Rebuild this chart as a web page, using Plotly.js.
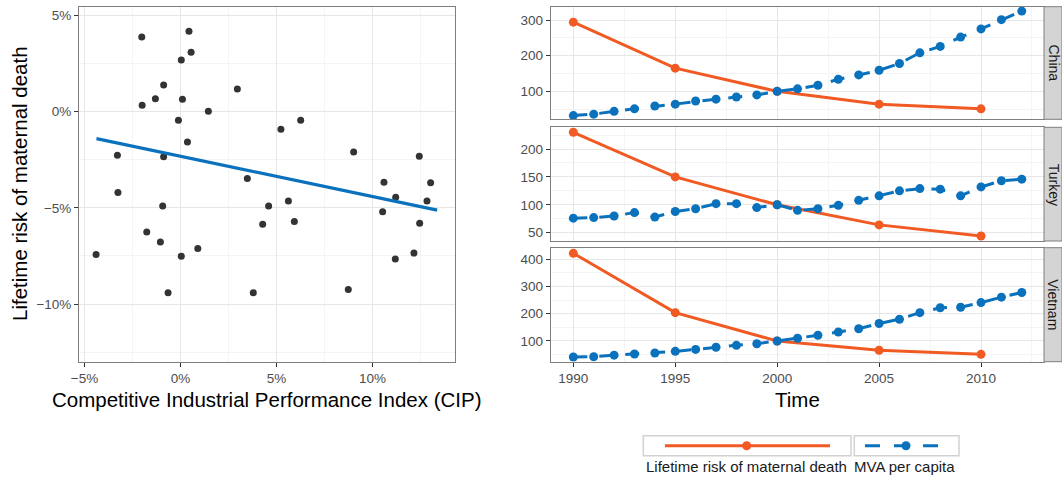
<!DOCTYPE html>
<html><head><meta charset="utf-8">
<script src="https://cdn.plot.ly/plotly-3.0.1.min.js"></script>
<style>html,body{margin:0;padding:0;background:#fff}#chart{width:1062px;height:477px}</style>
</head><body><div id="chart"></div>
<script>
// ---- Left panel: CIP vs lifetime risk of maternal death (percent) ----
const cipX = [-2.02, 0.44, 0.55, 0.04, -0.88, -1.31, -2.00, 0.10, 1.45, 2.96,
  -0.11, 0.36, -3.29, -0.88, -3.26, -0.93, -1.76, -1.05, 0.90, 3.48,
  -4.40, 0.04, -0.65, 5.23, 6.26, 9.02, 12.44, 10.60, 13.03, 11.21,
  12.84, 5.62, 4.59, 10.53, 12.46, 4.28, 5.93, 3.79, 8.74, 11.19, 12.16];
const riskChange = [3.87, 4.18, 3.08, 2.68, 1.38, 0.67, 0.33, 0.64, 0.02, 1.17,
  -0.45, -1.58, -2.27, -2.34, -4.20, -4.91, -6.25, -6.77, -7.11, -3.48,
  -7.42, -7.52, -9.41, -0.92, -0.45, -2.10, -2.32, -3.67, -3.70, -4.45,
  -4.65, -4.64, -4.91, -5.21, -5.80, -5.85, -5.71, -9.41, -9.24, -7.66, -7.35];
const fitX = [-4.38, 13.37];
const fitY = [-1.40, -5.12];

// ---- Right panels: index (2000 = 100) ----
const years = [1990,1991,1992,1993,1994,1995,1996,1997,1998,1999,2000,2001,
  2002,2003,2004,2005,2006,2007,2008,2009,2010,2011,2012];
const riskYears = [1990, 1995, 2000, 2005, 2010];
const countries = ["China", "Turkey", "Vietnam"];
const chinaRisk = [294, 165, 100, 64, 51];
const chinaMVA = [32, 36, 44, 51, 59, 64, 73, 78, 84, 90, 100, 107, 117, 134,
  146, 159, 178, 208, 226, 252, 275, 301, 325];
const turkeyRisk = [230, 150, 100, 64, 44];
const turkeyMVA = [76, 77, 80, 86, 78, 88, 93, 102, 102, 95, 100, 90, 93, 99,
  108, 116, 125, 129, 128, 116, 132, 143, 146];
const vietnamRisk = [422, 204, 100, 66, 51];
const vietnamMVA = [41, 42, 48, 52, 56, 62, 69, 77, 84, 90, 100, 110, 121, 133,
  145, 164, 180, 204, 222, 224, 241, 261, 278];
const seriesNames = ["Lifetime risk of maternal death", "MVA per capita"];

const W = 1062, H = 477;
const fx = p => p / W, fy = p => 1 - p / H;
const ORANGE = '#f15a22', BLUE = '#0a72bd';
const FONT = 'Liberation Sans, Arial, Helvetica, sans-serif';
const tickFont = {family: FONT, size: 13.5, color: '#4d4d4d'};
const titleFont = {family: FONT, size: 20.5, color: '#000'};

const baseAxis = {
  showline: true, mirror: true, linecolor: '#7f7f7f', linewidth: 1,
  ticks: 'outside', ticklen: 4, tickcolor: '#333333', tickwidth: 1,
  showgrid: true, gridcolor: '#e6e6e6', gridwidth: 1, zeroline: false,
  tickfont: tickFont, fixedrange: true
};

const traces = [];
traces.push({x: cipX, y: riskChange, type: 'scatter', mode: 'markers', xaxis: 'x', yaxis: 'y',
  marker: {size: 7, color: '#333333'}, hoverinfo: 'skip'});
traces.push({x: fitX, y: fitY, type: 'scatter', mode: 'lines', xaxis: 'x', yaxis: 'y',
  line: {color: BLUE, width: 3.3}, hoverinfo: 'skip'});

const riskData = [chinaRisk, turkeyRisk, vietnamRisk];
const mvaData = [chinaMVA, turkeyMVA, vietnamMVA];
const axIds = ['2', '3', '4'];
for (let i = 0; i < 3; i++) {
  traces.push({x: riskYears, y: riskData[i], type: 'scatter', mode: 'lines+markers',
    xaxis: 'x' + axIds[i], yaxis: 'y' + axIds[i], name: seriesNames[0],
    line: {color: ORANGE, width: 3}, marker: {size: 9, color: ORANGE}, hoverinfo: 'skip'});
  traces.push({x: years, y: mvaData[i], type: 'scatter', mode: 'lines+markers',
    xaxis: 'x' + axIds[i], yaxis: 'y' + axIds[i], name: seriesNames[1],
    line: {color: BLUE, width: 3, dash: '14px,12px'}, marker: {size: 9, color: BLUE}, hoverinfo: 'skip'});
}

const panels = [
  {top: 6.7, bottom: 119.3, range: [21.6, 337.3], dtick: 100},
  {top: 127.3, bottom: 241, range: [35.1, 238.9], dtick: 50},
  {top: 247.7, bottom: 361.7, range: [23.9, 442.6], dtick: 100}
];
const pxL = 550.7, pxR = 1044;

const layout = {
  width: W, height: H, margin: {l: 0, r: 0, t: 0, b: 0},
  paper_bgcolor: '#ffffff', plot_bgcolor: '#ffffff', showlegend: false,
  font: {family: FONT, color: '#000000'},
  xaxis: Object.assign({}, baseAxis, {domain: [fx(79), fx(455)], range: [-5.29, 14.30], anchor: 'y',
    tick0: 0, dtick: 5, ticksuffix: '%',
    minor: {tick0: 0, dtick: 2.5, showgrid: true, gridcolor: '#f4f4f4', ticks: ''}}),
  yaxis: Object.assign({}, baseAxis, {domain: [fy(362), fy(6.7)], range: [-13.01, 5.45], anchor: 'x',
    tick0: 0, dtick: 5, ticksuffix: '%',
    minor: {tick0: 0, dtick: 2.5, showgrid: true, gridcolor: '#f4f4f4', ticks: ''}}),
  shapes: [], annotations: []
};

for (let i = 0; i < 3; i++) {
  const p = panels[i], id = axIds[i];
  const isBottom = i === 2;
  layout['xaxis' + id] = Object.assign({}, baseAxis, {
    domain: [fx(pxL), fx(pxR)], range: [1988.89, 2013.09], anchor: 'y' + id,
    tick0: 1990, dtick: 5, showticklabels: isBottom, ticks: isBottom ? 'outside' : '',
    minor: {tick0: 1987.5, dtick: 5, showgrid: true, gridcolor: '#f4f4f4', ticks: ''}
  });
  if (!isBottom) layout['xaxis' + id].matches = 'x4';
  layout['yaxis' + id] = Object.assign({}, baseAxis, {
    domain: [fy(p.bottom), fy(p.top)], range: p.range, anchor: 'x' + id,
    tick0: 0, dtick: p.dtick,
    minor: {tick0: 0, dtick: p.dtick / 2, showgrid: true, gridcolor: '#f4f4f4', ticks: ''}
  });
  // facet strip
  layout.shapes.push({type: 'rect', xref: 'paper', yref: 'paper', x0: fx(1044), x1: 1,
    y0: fy(p.bottom), y1: fy(p.top), fillcolor: '#d4d4d4', line: {color: '#7f7f7f', width: 1}, layer: 'above'});
  layout.annotations.push({xref: 'paper', yref: 'paper', x: fx(1053.5), y: fy((p.top + p.bottom) / 2),
    text: countries[i], showarrow: false, textangle: 90, xanchor: 'center', yanchor: 'middle',
    font: {family: FONT, size: 14, color: '#1a1a1a'}});
}

// axis titles
layout.annotations.push({xref: 'paper', yref: 'paper', x: fx(267), y: fy(399),
  text: 'Competitive Industrial Performance Index (CIP)', showarrow: false,
  xanchor: 'center', yanchor: 'middle', font: titleFont});
layout.annotations.push({xref: 'paper', yref: 'paper', x: fx(19), y: fy(184),
  text: 'Lifetime risk of maternal death', showarrow: false, textangle: -90,
  xanchor: 'center', yanchor: 'middle', font: titleFont});
layout.annotations.push({xref: 'paper', yref: 'paper', x: fx(797.4), y: fy(399),
  text: 'Time', showarrow: false, xanchor: 'center', yanchor: 'middle', font: titleFont});

// legend (drawn as ggplot-style bottom legend)
const boxT = 435.7, boxB = 455.7, keyY = 445.7;
layout.shapes.push({type: 'rect', xref: 'paper', yref: 'paper', x0: fx(643.3), x1: fx(851),
  y0: fy(boxB), y1: fy(boxT), line: {color: '#d2d2d2', width: 1.5}, fillcolor: '#fff'});
layout.shapes.push({type: 'rect', xref: 'paper', yref: 'paper', x0: fx(854.3), x1: fx(959),
  y0: fy(boxB), y1: fy(boxT), line: {color: '#d2d2d2', width: 1.5}, fillcolor: '#fff'});
layout.shapes.push({type: 'line', xref: 'paper', yref: 'paper', x0: fx(665), x1: fx(830),
  y0: fy(keyY), y1: fy(keyY), line: {color: ORANGE, width: 3}});
layout.shapes.push({type: 'circle', xref: 'paper', yref: 'paper', x0: fx(742.2), x1: fx(751.2),
  y0: fy(450.2), y1: fy(441.2), fillcolor: ORANGE, line: {color: ORANGE, width: 0}});
layout.shapes.push({type: 'line', xref: 'paper', yref: 'paper', x0: fx(865), x1: fx(938.5),
  y0: fy(keyY), y1: fy(keyY), line: {color: BLUE, width: 3, dash: '15px,14px'}});
layout.shapes.push({type: 'circle', xref: 'paper', yref: 'paper', x0: fx(901.5), x1: fx(910.5),
  y0: fy(450.2), y1: fy(441.2), fillcolor: BLUE, line: {color: BLUE, width: 0}});
layout.annotations.push({xref: 'paper', yref: 'paper', x: fx(644), y: fy(466.5),
  text: seriesNames[0], showarrow: false, xanchor: 'left', yanchor: 'middle',
  font: {family: FONT, size: 15, color: '#1a1a1a'}});
layout.annotations.push({xref: 'paper', yref: 'paper', x: fx(852), y: fy(466.5),
  text: seriesNames[1], showarrow: false, xanchor: 'left', yanchor: 'middle',
  font: {family: FONT, size: 15, color: '#1a1a1a'}});

Plotly.newPlot('chart', traces, layout, {displayModeBar: false, staticPlot: true});
</script>
</body></html>
